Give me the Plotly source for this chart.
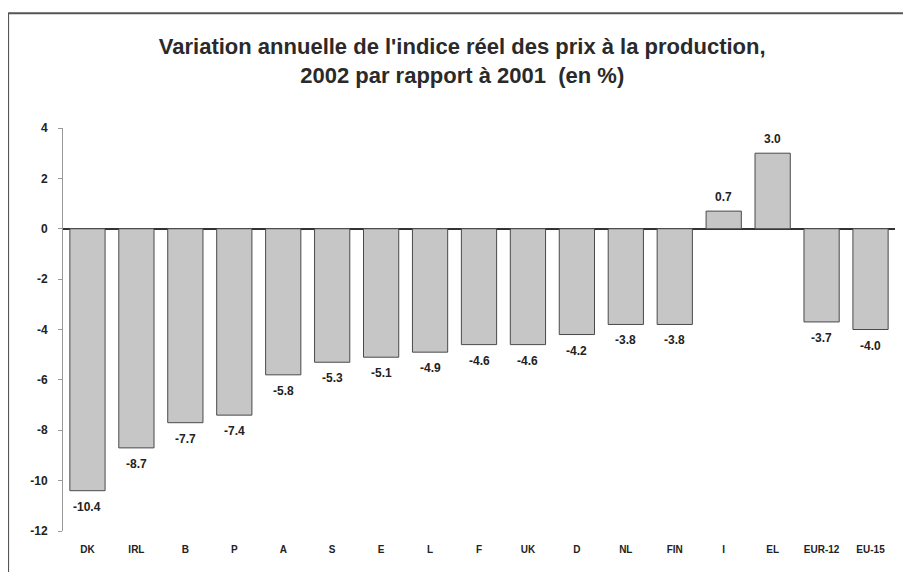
import plotly.graph_objects as go

categories = ["DK", "IRL", "B", "P", "A", "S", "E", "L", "F", "UK", "D", "NL", "FIN", "I", "EL", "EUR-12", "EU-15"]
values = [-10.4, -8.7, -7.7, -7.4, -5.8, -5.3, -5.1, -4.9, -4.6, -4.6, -4.2, -3.8, -3.8, 0.7, 3.0, -3.7, -4.0]
y_ticks = [4, 2, 0, -2, -4, -6, -8, -10, -12]
y_tick_labels = ["4", "2", "0", "-2", "-4", "-6", "-8", "-10", "-12"]

FONT = "Liberation Sans, Arial, sans-serif"

fig = go.Figure(go.Bar(
    x=categories,
    y=values,
    marker=dict(color="#c6c6c6", line=dict(color="#4a4a4a", width=1)),
    cliponaxis=False,
))

for cat, v in zip(categories, values):
    fig.add_annotation(
        x=cat, y=v, text=f"{v:.1f}", showarrow=False,
        yanchor="bottom" if v >= 0 else "top",
        yshift=5 if v >= 0 else -7,
        font=dict(family=FONT, size=12, color="#222", weight="bold"),
    )

fig.update_layout(
    width=903, height=564,
    margin=dict(l=55, r=16, t=120, b=41, autoexpand=False),
    paper_bgcolor="white", plot_bgcolor="white",
    bargap=0.28,
    showlegend=False,
    title=dict(
        text="Variation annuelle de l'indice réel des prix à la production,<br>2002 par rapport à 2001  (en %)",
        x=0.503, xanchor="center", y=0.918, yanchor="top",
        font=dict(family=FONT, size=22, color="#2a2a2a", weight="bold"),
    ),
    font=dict(family=FONT, color="#222"),
)

fig.update_xaxes(
    showgrid=False, showline=False, ticks="", automargin=False,
    tickfont=dict(family=FONT, size=10, color="#222", weight="bold"),
    ticklabelstandoff=11,
)
fig.update_yaxes(
    range=[-12, 4], tickvals=y_ticks, ticktext=y_tick_labels, showgrid=False,
    automargin=False,
    showline=True, linecolor="#999", linewidth=1,
    ticks="outside", ticklen=4, tickcolor="#999",
    zeroline=True, zerolinecolor="#333", zerolinewidth=1.5,
    tickfont=dict(family=FONT, size=12, color="#222", weight="bold"),
    ticklabelstandoff=8,
)

# outer frame (top and left edges of the boxed figure)
fig.add_shape(type="line", xref="paper", yref="paper", x0=-0.066, x1=1.1, y0=1.285, y1=1.285,
              line=dict(color="#555", width=2))
fig.add_shape(type="line", xref="paper", yref="paper", x0=-0.066, x1=-0.066, y0=-0.2, y1=1.285,
              line=dict(color="#555", width=2))

fig.write_html("out.html")
